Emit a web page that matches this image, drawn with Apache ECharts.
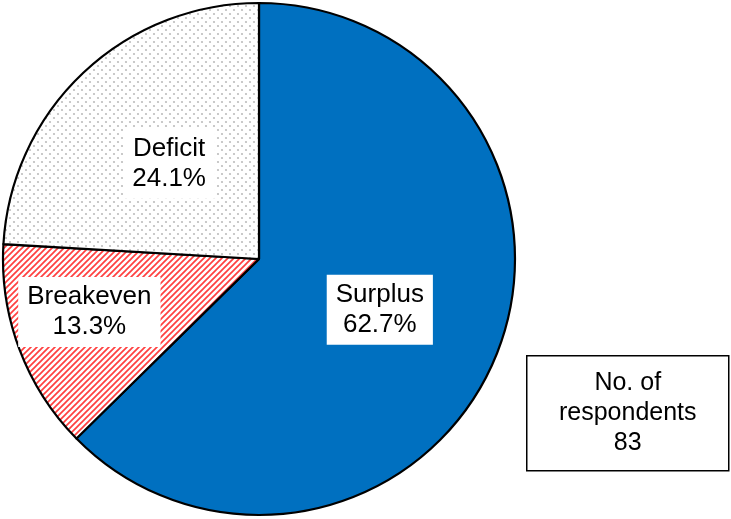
<!DOCTYPE html>
<html>
<head>
<meta charset="utf-8">
<script src="https://cdn.jsdelivr.net/npm/echarts@6/dist/echarts.min.js"></script>
<style>html,body{margin:0;padding:0;background:#fff;}#c{width:731px;height:519px;}</style>
</head>
<body>
<div id="c"></div>
<script>
var categories = ['Surplus', 'Breakeven', 'Deficit'];
var shares = [62.7, 13.3, 24.1];
var respondents = 83;

function dotPattern() {
  var c = document.createElement('canvas');
  c.width = 8; c.height = 8;
  var g = c.getContext('2d');
  g.fillStyle = '#ffffff'; g.fillRect(0, 0, 8, 8);
  g.fillStyle = '#bdbdbd';
  g.beginPath(); g.arc(2, 2, 1.1, 0, Math.PI * 2); g.fill();
  g.beginPath(); g.arc(6, 6, 1.1, 0, Math.PI * 2); g.fill();
  return c;
}
function hatchPattern() {
  var n = 6;
  var c = document.createElement('canvas');
  c.width = n; c.height = n;
  var g = c.getContext('2d');
  g.fillStyle = '#ffffff'; g.fillRect(0, 0, n, n);
  g.strokeStyle = '#ff4040'; g.lineWidth = 1.7;
  g.beginPath();
  g.moveTo(-1, n + 1); g.lineTo(n + 1, -1);
  g.moveTo(-1, 1); g.lineTo(1, -1);
  g.moveTo(n - 1, n + 1); g.lineTo(n + 1, n - 1);
  g.stroke();
  return c;
}

var fills = [
  '#0070C0',
  { image: hatchPattern(), repeat: 'repeat' },
  { image: dotPattern(), repeat: 'repeat' }
];

var data = categories.map(function (name, i) {
  return { name: name, value: shares[i], itemStyle: { color: fills[i] } };
});

var chart = echarts.init(document.getElementById('c'), null, { renderer: 'canvas' });
chart.setOption({
  animation: false,
  series: [{
    type: 'pie',
    center: [259, 259],
    radius: [0, 256],
    startAngle: 90,
    clockwise: true,
    silent: true,
    itemStyle: { borderColor: '#000', borderWidth: 2.2 },
    label: {
      show: true,
      position: 'inside',
      formatter: function (p) { return p.name + '\n' + p.value.toFixed(1) + '%'; },
      fontFamily: 'Liberation Sans, Arial, sans-serif',
      fontSize: 26,
      lineHeight: 30,
      color: '#000',
      backgroundColor: '#fff',
      padding: [5, 9, 5, 9]
    },
    labelLine: { show: false },
    labelLayout: function (p) {
      if (p.dataIndex === 1) return { dx: -47, dy: 7 };
      return {};
    },
    data: data
  }],
  graphic: [{
    type: 'group',
    left: 526,
    top: 355,
    children: [{
      type: 'rect',
      shape: { x: 0, y: 0, width: 202, height: 115 },
      style: { fill: '#fff', stroke: '#000', lineWidth: 1.5 }
    }, {
      type: 'text',
      x: 101,
      y: 57.5,
      style: {
        text: 'No. of\nrespondents\n' + respondents,
        fontFamily: 'Liberation Sans, Arial, sans-serif',
        fontSize: 25,
        lineHeight: 30,
        fill: '#000',
        align: 'center',
        verticalAlign: 'middle'
      }
    }]
  }]
});
</script>
</body>
</html>
